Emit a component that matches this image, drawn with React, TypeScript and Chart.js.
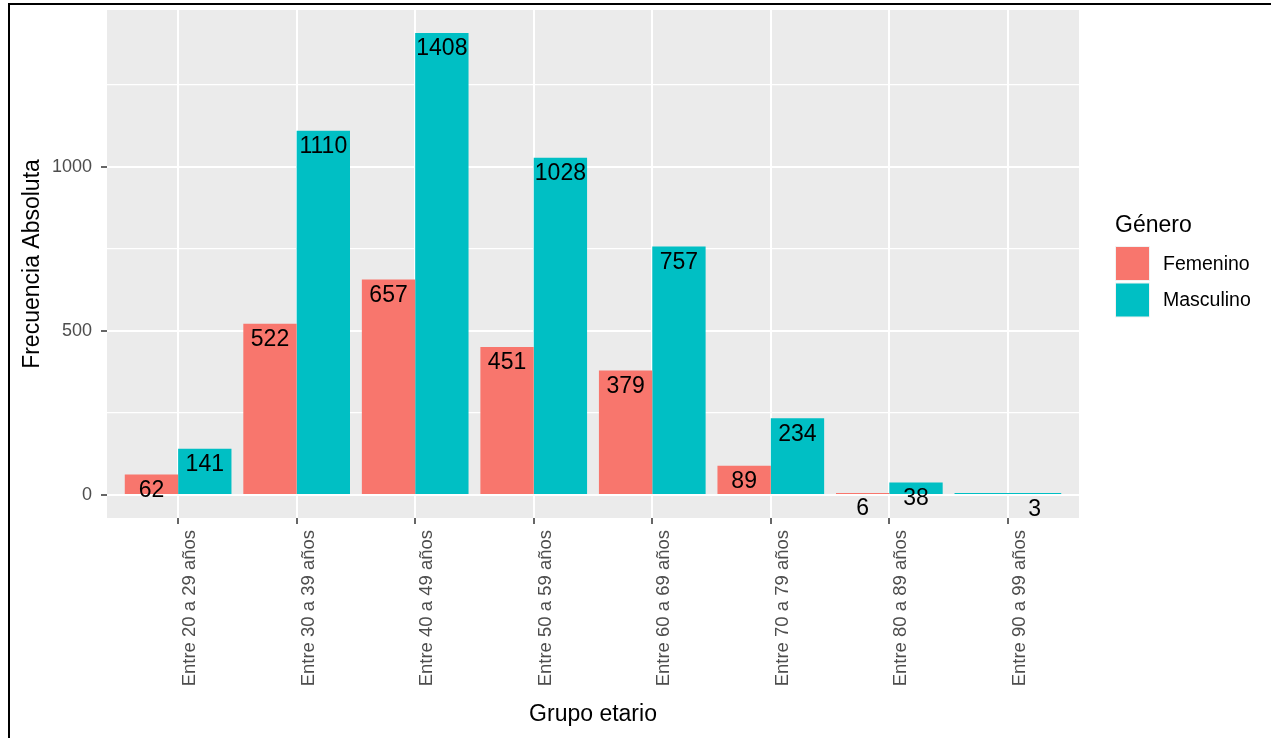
import React, { useEffect, useRef } from "react";
import { Chart, registerables } from "chart.js";

Chart.register(...registerables);

const categories = [
  "Entre 20 a 29 años",
  "Entre 30 a 39 años",
  "Entre 40 a 49 años",
  "Entre 50 a 59 años",
  "Entre 60 a 69 años",
  "Entre 70 a 79 años",
  "Entre 80 a 89 años",
  "Entre 90 a 99 años",
];
const femenino: (number | null)[] = [62, 522, 657, 451, 379, 89, 6, null];
const masculino: (number | null)[] = [141, 1110, 1408, 1028, 757, 234, 38, 3];
const seriesNames = ["Femenino", "Masculino"];
const seriesColors = ["#F8766D", "#00BFC4"];
const yMajorTicks = [0, 500, 1000];
const yMinorTicks = [250, 750, 1250];
const legendTitle = "Género";
const xTitle = "Grupo etario";
const yTitle = "Frecuencia Absoluta";

const FONT = "'Liberation Sans', Arial, Helvetica, sans-serif";

export default function App() {
  const ref = useRef<HTMLCanvasElement | null>(null);

  useEffect(() => {
    if (!ref.current) return;
    Chart.defaults.font.family = FONT;

    const allVals = [...femenino, ...masculino].filter((v) => v !== null) as number[];
    const dMax = Math.max(...allVals);
    const dMin = Math.min(0, ...allVals);
    const span = dMax - dMin;
    const yMin = dMin - span * 0.05;
    const yMax = dMax + span * 0.05;

    const panelBg = {
      id: "panelBg",
      beforeDraw(chart: any) {
        const { ctx, chartArea } = chart;
        ctx.save();
        ctx.fillStyle = "#EBEBEB";
        ctx.fillRect(chartArea.left, chartArea.top, chartArea.right - chartArea.left, chartArea.bottom - chartArea.top);
        ctx.restore();
      },
    };

    const barLabels = {
      id: "barLabels",
      afterDatasetsDraw(chart: any) {
        const { ctx } = chart;
        const xs = chart.scales.x;
        const ys = chart.scales.y;
        const spacing = xs.getPixelForValue(1) - xs.getPixelForValue(0);
        const nDs = chart.data.datasets.length;
        ctx.save();
        ctx.fillStyle = "#000000";
        ctx.font = `23px ${FONT}`;
        ctx.textAlign = "center";
        ctx.textBaseline = "middle";
        chart.data.datasets.forEach((ds: any, d: number) => {
          ds.data.forEach((pt: any) => {
            if (pt.y === null || pt.y === undefined) return;
            const w = (spacing * 0.9) / nDs;
            const x = xs.getPixelForValue(pt.x) - (spacing * 0.9) / 2 + w * (d + 0.5);
            const y = ys.getPixelForValue(pt.y) + 16;
            ctx.fillText(String(pt.y), x, y);
          });
        });
        ctx.restore();
      },
    };

    const gLegend = {
      id: "gLegend",
      afterDraw(chart: any) {
        const { ctx } = chart;
        ctx.save();
        ctx.fillStyle = "#000000";
        ctx.font = `23px ${FONT}`;
        ctx.textAlign = "left";
        ctx.textBaseline = "alphabetic";
        ctx.fillText(legendTitle, 1115, 232);
        chart.data.datasets.forEach((ds: any, i: number) => {
          const top = 246 + i * 36.5;
          ctx.fillStyle = "#F2F2F2";
          ctx.fillRect(1115, top, 35, 35);
          ctx.fillStyle = ds.backgroundColor;
          ctx.fillRect(1116, top + 1, 33, 33);
          ctx.fillStyle = "#000000";
          ctx.font = `19.5px ${FONT}`;
          ctx.textBaseline = "middle";
          ctx.fillText(ds.label, 1163, top + 18.5);
        });
        ctx.restore();
      },
    };

    const chart = new Chart(ref.current, {
      type: "bar",
      data: {
        datasets: [
          {
            label: seriesNames[0],
            data: femenino.map((v, i) => ({ x: i, y: v })) as any,
            backgroundColor: seriesColors[0],
            borderWidth: 0,
            skipNull: true,
            minBarLength: 2,
          } as any,
          {
            label: seriesNames[1],
            data: masculino.map((v, i) => ({ x: i, y: v })) as any,
            backgroundColor: seriesColors[1],
            borderWidth: 0,
            skipNull: true,
            minBarLength: 2,
          } as any,
        ],
      },
      options: {
        animation: false,
        responsive: false,
        devicePixelRatio: 1,
        layout: { padding: { left: 0, top: 10, right: 192, bottom: 0 } },
        datasets: { bar: { categoryPercentage: 0.9, barPercentage: 1 } },
        plugins: { legend: { display: false }, tooltip: { enabled: false } },
        scales: {
          x: {
            type: "linear",
            min: -0.6,
            max: categories.length - 1 + 0.6,
            offset: false,
            bounds: "data",
            afterBuildTicks: (s: any) => {
              s.ticks = categories.map((_, i) => ({ value: i }));
            },
            afterFit: (s: any) => {
              s.height = 220;
              s.paddingLeft = 0;
              s.paddingRight = 0;
            },
            ticks: {
              autoSkip: false,
              minRotation: 90,
              maxRotation: 90,
              padding: 6,
              labelOffset: 12,
              color: "#4D4D4D",
              font: { size: 18.5 },
              callback: (v: any) => categories[v] ?? "",
            },
            grid: {
              offset: false,
              color: "#FFFFFF",
              lineWidth: 2,
              tickColor: "#333333",
              tickLength: 6,
              tickWidth: 1.5,
            },
            border: { display: false },
            title: {
              display: true,
              text: xTitle,
              color: "#000000",
              font: { size: 23 },
              padding: { top: 0, bottom: 10 },
            },
          } as any,
          y: {
            type: "linear",
            min: yMin,
            max: yMax,
            bounds: "data",
            afterBuildTicks: (s: any) => {
              s.ticks = [...yMajorTicks, ...yMinorTicks].sort((a, b) => a - b).map((v) => ({ value: v }));
            },
            afterFit: (s: any) => {
              s.width = 107;
              s.paddingTop = 0;
              s.paddingBottom = 0;
            },
            ticks: {
              autoSkip: false,
              padding: 9,
              color: "#4D4D4D",
              font: { size: 18 },
              callback: (v: any) => (yMajorTicks.includes(v) ? String(v) : ""),
            },
            grid: {
              color: "#FFFFFF",
              lineWidth: (c: any) => (c.tick && yMajorTicks.includes(c.tick.value) ? 2 : 1.2),
              tickColor: (c: any) => (c.tick && yMajorTicks.includes(c.tick.value) ? "#333333" : "rgba(0,0,0,0)"),
              tickLength: 6,
              tickWidth: 1.5,
            },
            border: { display: false },
            title: {
              display: true,
              text: yTitle,
              color: "#000000",
              font: { size: 23 },
              padding: { top: 19, bottom: 0 },
            },
          } as any,
        },
      },
      plugins: [panelBg, barLabels, gLegend],
    });

    return () => chart.destroy();
  }, []);

  return (
    <div style={{ position: "fixed", left: 0, top: 0, width: 1271, height: 738, background: "#FFFFFF" }}>
      <canvas ref={ref} width={1271} height={738} style={{ position: "absolute", left: 0, top: 0, width: 1271, height: 738 }} />
      <div
        style={{
          position: "absolute",
          left: 8,
          top: 3,
          width: 1271,
          height: 740,
          borderLeft: "2px solid #000",
          borderTop: "2px solid #000",
          pointerEvents: "none",
        }}
      />
    </div>
  );
}
